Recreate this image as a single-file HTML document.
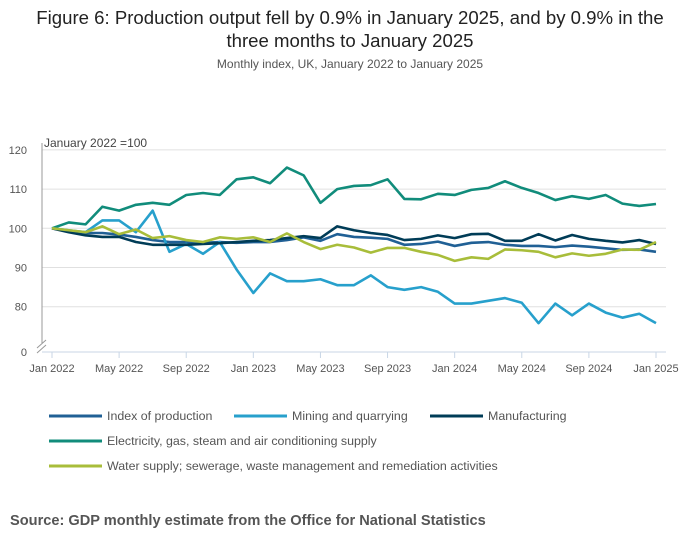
<!DOCTYPE html>
<html><head><meta charset="utf-8"><style>
body{margin:0;background:#fff;font-family:"Liberation Sans",sans-serif;}
#wrap{position:relative;width:700px;height:549px;overflow:hidden;}
.t{position:absolute;white-space:nowrap;}
</style></head><body>
<div id="wrap">
<div class="t" style="left:0;width:700px;text-align:center;top:6px;font-size:18.6px;line-height:23px;color:#222;">Figure 6: Production output fell by 0.9% in January 2025, and by 0.9% in the<br>three months to January 2025</div>
<div class="t" style="left:0;width:700px;text-align:center;top:57px;font-size:12px;color:#555;">Monthly index, UK, January 2022 to January 2025</div>
<svg id="chart" width="700" height="549" style="position:absolute;left:0;top:0"></svg>
<div class="t" style="left:10px;top:513px;font-size:14.6px;font-weight:bold;color:#555;">Source: GDP monthly estimate from the Office for National Statistics</div>
</div>
<script>
const months = 37;
const xTickLabels = ["Jan 2022","May 2022","Sep 2022","Jan 2023","May 2023","Sep 2023","Jan 2024","May 2024","Sep 2024","Jan 2025"];
const yTicks = [80,90,100,110,120];
const seriesNames = ["Index of production","Mining and quarrying","Manufacturing","Electricity, gas, steam and air conditioning supply","Water supply; sewerage, waste management and remediation activities"];
const seriesColors = ["#206095","#27a0cc","#003c57","#118c7b","#a8bd3a"];
const iop = [100,99.3,98.8,98.8,98.4,97.8,97,96.5,96.5,96.3,96.5,96.3,96.5,96.5,97,97.7,96.8,98.5,97.8,97.6,97.3,95.8,96,96.6,95.5,96.3,96.5,95.8,95.5,95.5,95.2,95.6,95.3,94.9,94.5,94.6,94];
const mining = [100,99.5,99,102,102,99,104.5,94,96,93.5,96.5,89.5,83.5,88.5,86.5,86.5,87,85.5,85.5,88,85,84.3,85,83.8,80.8,80.8,81.5,82.2,81,75.8,80.8,77.8,80.8,78.5,77.2,78.2,75.8];
const manuf = [100,99,98.2,97.8,97.8,96.5,95.8,95.8,95.8,96,96.2,96.5,96.8,97,97.5,98,97.5,100.5,99.5,98.8,98.3,97,97.3,98.2,97.5,98.5,98.6,96.8,96.8,98.5,96.9,98.3,97.3,96.8,96.4,97,96];
const elec = [100,101.5,101,105.5,104.5,106,106.5,106,108.5,109,108.5,112.5,113,111.5,115.5,113.5,106.5,110,110.8,111,112.5,107.5,107.4,108.8,108.5,109.8,110.3,112,110.3,109,107.2,108.2,107.5,108.5,106.3,105.7,106.2];
const water = [100,99.5,99,100.5,98.5,99.7,97.5,98,97,96.5,97.7,97.3,97.7,96.5,98.7,96.5,94.7,95.8,95.1,93.8,95,95,94,93.2,91.7,92.6,92.2,94.6,94.4,94,92.6,93.6,93,93.5,94.6,94.5,96.5];
const allSeries = [iop,mining,manuf,elec,water];
const svg = document.getElementById('chart');
const NS = "http://www.w3.org/2000/svg";
const x = i => 52 + i*(656-52)/(months-1);
const y = v => 228.3 - (v-100)*3.92;
function mk(tag, attrs){const e=document.createElementNS(NS,tag);for(const k in attrs)e.setAttribute(k,attrs[k]);svg.appendChild(e);return e;}
yTicks.forEach(v=>{
  const g=mk('line',{x1:42,x2:666,y1:y(v),y2:y(v),stroke:'#e0e0e0','stroke-width':1});
  
  
  const t=mk('text',{x:27,y:y(v)+4,'font-size':11,fill:'#555','text-anchor':'end','font-family':'Liberation Sans, sans-serif'});
  t.textContent=v;
  
  
});
const z=mk('text',{x:27,y:356,'font-size':11,fill:'#555','text-anchor':'end','font-family':'Liberation Sans, sans-serif'});
z.textContent='0';


const ya=mk('line',{x1:42,x2:42,y1:143,y2:343,stroke:'#999','stroke-width':1});


const br=mk('path',{d:'M37,348 L46,340 M37,353 L46,345',stroke:'#999','stroke-width':1,fill:'none'});


const xa=mk('line',{x1:42,x2:666,y1:352,y2:352,stroke:'#c8d6e6','stroke-width':1});


const yt=mk('text',{x:44,y:147,'font-size':12,fill:'#444','font-family':'Liberation Sans, sans-serif'});
yt.textContent='January 2022 =100';


xTickLabels.forEach((l,k)=>{
  const xi=x(k*4);
  const tk=mk('line',{x1:xi,x2:xi,y1:352,y2:358,stroke:'#c8d6e6'});
  
  
  const t=mk('text',{x:xi,y:372,'font-size':11,fill:'#555','text-anchor':'middle','font-family':'Liberation Sans, sans-serif'});
  t.textContent=l;
  
  
});
allSeries.forEach((s,si)=>{
  const p=mk('polyline',{points:s.map((v,i)=>x(i)+','+y(v)).join(' '),fill:'none',stroke:seriesColors[si],'stroke-width':2.6,'stroke-linejoin':'round'});
  
  
});
const legPos=[[49,416],[234,416],[430,416],[49,441],[49,466]];
seriesNames.forEach((n,si)=>{
  const [lx,ly]=legPos[si];
  const l=mk('line',{x1:lx,x2:lx+53,y1:ly,y2:ly,stroke:seriesColors[si],'stroke-width':3});
  
  
  const t=mk('text',{x:lx+58,y:ly+4,'font-size':12.4,fill:'#555','font-family':'Liberation Sans, sans-serif'});
  t.textContent=n;
  
  
});
</script>
</body></html>
